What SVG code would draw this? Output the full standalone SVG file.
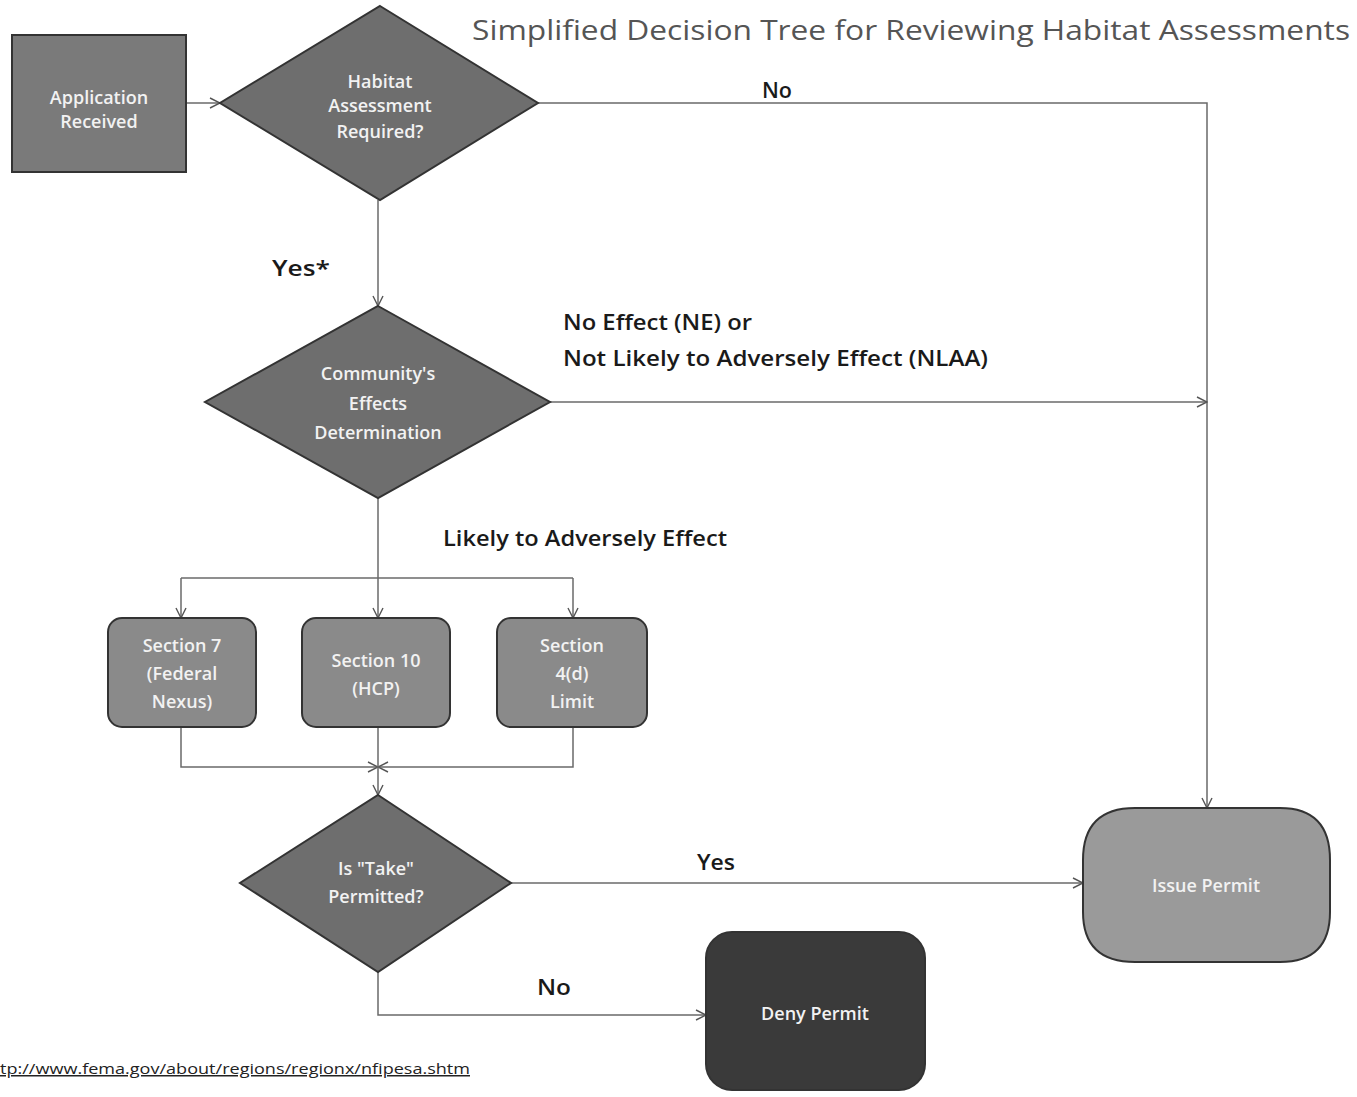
<svg xmlns="http://www.w3.org/2000/svg" width="1357" height="1097" viewBox="0 0 1357 1097">
<style>
.ln{fill:none;stroke:#6a6a6a;stroke-width:1.5}
.nt{font-family:"Open Sans","Liberation Sans",sans-serif;font-size:18px;font-weight:600;fill:#f2f2f2;text-anchor:middle}
.lb{font-family:"Open Sans","Liberation Sans",sans-serif;font-size:22px;font-weight:600;fill:#1a1a1a}
.nd{stroke:#333;stroke-width:2}
</style>
<defs>
<marker id="ar" viewBox="0 0 12 12" refX="11" refY="6" markerWidth="12" markerHeight="12" markerUnits="userSpaceOnUse" orient="auto">
<path d="M1,1 L11,6 L1,11" fill="none" stroke="#555" stroke-width="1.4"/>
</marker>
</defs>
<rect width="1357" height="1097" fill="#fff"/>
<text x="472" y="40" font-family="Open Sans, Liberation Sans, sans-serif" font-size="27" fill="#555" textLength="878" lengthAdjust="spacingAndGlyphs">Simplified Decision Tree for Reviewing Habitat Assessments</text>
<g id="connectors">
<path class="ln" d="M186,103 H220" marker-end="url(#ar)"/>
<path class="ln" d="M538,103 H1207 V808" marker-end="url(#ar)"/>
<path class="ln" d="M378,200 V306" marker-end="url(#ar)"/>
<path class="ln" d="M550,402 H1207" marker-end="url(#ar)"/>
<path class="ln" d="M378,498 V618" marker-end="url(#ar)"/>
<path class="ln" d="M181,578 H573"/>
<path class="ln" d="M181,578 V618" marker-end="url(#ar)"/>
<path class="ln" d="M573,578 V618" marker-end="url(#ar)"/>
<path class="ln" d="M181,727 V767 H378" marker-end="url(#ar)"/>
<path class="ln" d="M573,727 V767 H378" marker-end="url(#ar)"/>
<path class="ln" d="M378,727 V795" marker-end="url(#ar)"/>
<path class="ln" d="M511,883 H1083" marker-end="url(#ar)"/>
<path class="ln" d="M378,972 V1015 H706" marker-end="url(#ar)"/>
</g>
<g id="labels">
<text class="lb" x="762" y="98" textLength="30" lengthAdjust="spacingAndGlyphs">No</text>
<text class="lb" x="272" y="276" textLength="58" lengthAdjust="spacingAndGlyphs">Yes*</text>
<text class="lb" x="563" y="330" textLength="189" lengthAdjust="spacingAndGlyphs">No Effect (NE) or</text>
<text class="lb" x="563" y="366" textLength="425" lengthAdjust="spacingAndGlyphs">Not Likely to Adversely Effect (NLAA)</text>
<text class="lb" x="443" y="546" textLength="284" lengthAdjust="spacingAndGlyphs">Likely to Adversely Effect</text>
<text class="lb" x="697" y="870" textLength="38" lengthAdjust="spacingAndGlyphs">Yes</text>
<text class="lb" x="537" y="995" textLength="34" lengthAdjust="spacingAndGlyphs">No</text>
</g>
<g id="app">
<rect class="nd" x="12" y="35" width="174" height="137" fill="#7a7a7a"/>
<text class="nt" x="99" y="104">Application</text>
<text class="nt" x="99" y="128">Received</text>
</g>
<g id="d1">
<polygon class="nd" points="380,6 538,103 380,200 220,103" fill="#6e6e6e"/>
<text class="nt" x="380" y="88">Habitat</text>
<text class="nt" x="380" y="112">Assessment</text>
<text class="nt" x="380" y="138">Required?</text>
</g>
<g id="d2">
<polygon class="nd" points="378,306 550,402 378,498 205,402" fill="#6e6e6e"/>
<text class="nt" x="378" y="380">Community's</text>
<text class="nt" x="378" y="410">Effects</text>
<text class="nt" x="378" y="439">Determination</text>
</g>
<g id="s7">
<rect class="nd" x="108" y="618" width="148" height="109" rx="14" fill="#8a8a8a"/>
<text class="nt" x="182" y="652">Section 7</text>
<text class="nt" x="182" y="680">(Federal</text>
<text class="nt" x="182" y="708">Nexus)</text>
</g>
<g id="s10">
<rect class="nd" x="302" y="618" width="148" height="109" rx="14" fill="#8a8a8a"/>
<text class="nt" x="376" y="667">Section 10</text>
<text class="nt" x="376" y="695">(HCP)</text>
</g>
<g id="s4d">
<rect class="nd" x="497" y="618" width="150" height="109" rx="14" fill="#8a8a8a"/>
<text class="nt" x="572" y="652">Section</text>
<text class="nt" x="572" y="680">4(d)</text>
<text class="nt" x="572" y="708">Limit</text>
</g>
<g id="d3">
<polygon class="nd" points="378,795 511,883 378,972 240,883" fill="#6e6e6e"/>
<text class="nt" x="376" y="875">Is "Take"</text>
<text class="nt" x="376" y="903">Permitted?</text>
</g>
<g id="deny">
<rect class="nd" x="706" y="932" width="219" height="158" rx="26" fill="#3a3a3a"/>
<text class="nt" x="815" y="1020">Deny Permit</text>
</g>
<g id="issue">
<path class="nd" d="M1135,808 H1280 Q1330,808 1330,860 V912 Q1330,962 1280,962 H1135 Q1083,962 1083,912 V860 Q1083,808 1135,808 Z" fill="#9a9a9a"/>
<text class="nt" x="1206" y="892">Issue Permit</text>
</g>
<text x="0" y="1074" font-family="Open Sans, Liberation Sans, sans-serif" font-size="15" fill="#222" text-decoration="underline" textLength="470" lengthAdjust="spacingAndGlyphs">tp://www.fema.gov/about/regions/regionx/nfipesa.shtm</text>
</svg>
